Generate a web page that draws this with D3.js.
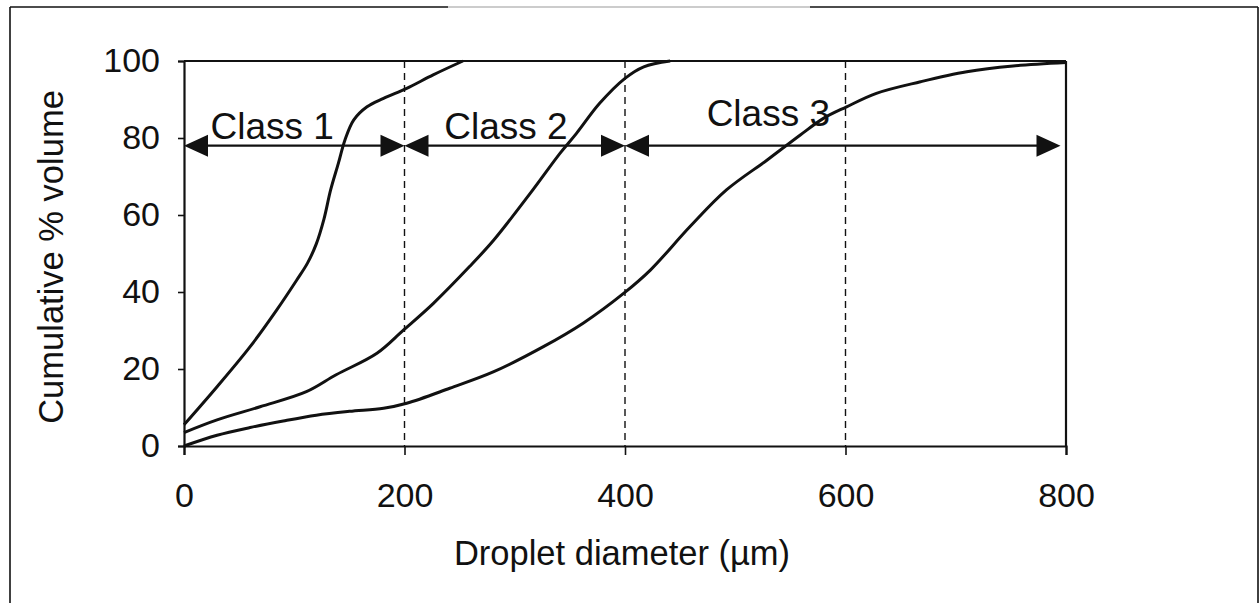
<!DOCTYPE html>
<html>
<head>
<meta charset="utf-8">
<script src="https://cdn.jsdelivr.net/npm/d3@7"></script>
<style>
  html, body { margin: 0; padding: 0; background: #fff; }
  svg { display: block; }
  text { font-family: "Liberation Sans", Arial, Helvetica, sans-serif; fill: #111; }
</style>
</head>
<body>
<svg id="chart" width="1260" height="603"></svg>
<script>
// Cumulative volume distributions of droplet diameter for three size classes
const class1Diameter = [0, 30, 60, 84, 102, 112, 120, 127, 133, 140, 146, 154, 166, 181, 202, 226, 253];
const class1Volume   = [5.5, 15.4, 25.8, 35.3, 43, 47.5, 52.5, 59, 66.5, 73.4, 79.5, 84.7, 88.1, 90.3, 92.9, 96.4, 100];

const class2Diameter = [0, 30, 69, 111, 138, 175, 199, 226, 259, 281, 314, 341, 356, 377, 400, 417, 441];
const class2Volume   = [3.5, 6.8, 10.2, 14.1, 18.5, 24.1, 30.1, 37, 46.6, 53.5, 65.6, 76, 81.2, 89, 95.5, 98.5, 100];

const class3Diameter = [0, 30, 60, 90, 120, 150, 181, 202, 241, 281, 326, 362, 399, 423, 459, 492, 529, 559, 580, 601, 628, 668, 710, 752, 800];
const class3Volume   = [0, 2.8, 4.8, 6.5, 8, 9, 9.8, 11.1, 15, 19.3, 25.8, 31.9, 39.7, 45.7, 57, 66.5, 74.3, 80.8, 85.1, 88.1, 91.6, 94.6, 97.2, 98.7, 99.6];

const xTicks = [0, 200, 400, 600, 800];
const yTicks = [0, 20, 40, 60, 80, 100];
const classBoundaries = [200, 400, 600];

const classNames = ["Class 1", "Class 2", "Class 3"];
const classFrom  = [0, 200, 400];
const classTo    = [200, 400, 795];
const classArrowLevel = 78;

const svg = d3.select("#chart");
const W = 1260, H = 603;

svg.append("rect").attr("width", W).attr("height", H).attr("fill", "#fff");

// outer frame (open at the bottom edge of the page)
const frame = svg.append("g").attr("fill", "none").attr("stroke-width", 1.6);
frame.append("line").attr("x1", 10).attr("y1", 7).attr("x2", 10).attr("y2", H).attr("stroke", "#111");
frame.append("line").attr("x1", 1258).attr("y1", 7).attr("x2", 1258).attr("y2", H).attr("stroke", "#111");
frame.append("line").attr("x1", 10).attr("y1", 7).attr("x2", 448).attr("y2", 7).attr("stroke", "#111");
frame.append("line").attr("x1", 448).attr("y1", 7).attr("x2", 810).attr("y2", 7).attr("stroke", "#bbb");
frame.append("line").attr("x1", 810).attr("y1", 7).attr("x2", 1258).attr("y2", 7).attr("stroke", "#111");

const x = d3.scaleLinear().domain([0, 800]).range([184, 1066]);
const y = d3.scaleLinear().domain([0, 100]).range([446, 61]);

// dashed class boundaries
svg.append("g").selectAll("line").data(classBoundaries).join("line")
  .attr("x1", d => x(d)).attr("x2", d => x(d))
  .attr("y1", y(100)).attr("y2", y(0))
  .attr("stroke", "#111").attr("stroke-width", 1.4)
  .attr("stroke-dasharray", "7,5");

// axes
const fontTick = 34;
const xAxis = svg.append("g").attr("transform", `translate(0,${y(0)})`)
  .call(d3.axisBottom(x).tickValues(xTicks).tickSize(9).tickPadding(28).tickFormat(d3.format("d")));
const yAxis = svg.append("g").attr("transform", `translate(${x(0)},0)`)
  .call(d3.axisLeft(y).tickValues(yTicks).tickSize(6).tickPadding(18).tickFormat(d3.format("d")));
[xAxis, yAxis].forEach(a => {
  a.select(".domain").attr("stroke", "#111").attr("stroke-width", 2.2);
  a.selectAll(".tick line").attr("stroke", "#111").attr("stroke-width", 1.6);
  a.selectAll(".tick text").attr("font-size", fontTick)
    .attr("font-family", "'Liberation Sans', Arial, Helvetica, sans-serif").attr("fill", "#111");
});

// top and right edges of the plot area
svg.append("line").attr("x1", x(0)).attr("x2", x(800)).attr("y1", y(100)).attr("y2", y(100))
  .attr("stroke", "#111").attr("stroke-width", 2.2);
svg.append("line").attr("x1", x(800)).attr("x2", x(800)).attr("y1", y(100)).attr("y2", y(0))
  .attr("stroke", "#111").attr("stroke-width", 2.2);

// distribution curves
const line = d3.line().x(d => x(d[0])).y(d => y(d[1])).curve(d3.curveCatmullRom.alpha(0.5));
const curves = [
  d3.zip(class1Diameter, class1Volume),
  d3.zip(class2Diameter, class2Volume),
  d3.zip(class3Diameter, class3Volume)
];
svg.append("g").selectAll("path").data(curves).join("path")
  .attr("d", line).attr("fill", "none")
  .attr("stroke", "#111").attr("stroke-width", 3).attr("stroke-linejoin", "round");

// class range arrows
const ay = y(classArrowLevel);
const headL = 24, headH = 11;
const arrows = svg.append("g");
classNames.forEach((name, i) => {
  const x0 = x(classFrom[i]), x1 = x(classTo[i]);
  arrows.append("line").attr("x1", x0 + 4).attr("x2", x1 - 4).attr("y1", ay).attr("y2", ay)
    .attr("stroke", "#111").attr("stroke-width", 2.2);
  arrows.append("path")
    .attr("d", `M${x0},${ay}L${x0 + headL},${ay - headH}L${x0 + headL},${ay + headH}Z`).attr("fill", "#111");
  arrows.append("path")
    .attr("d", `M${x1},${ay}L${x1 - headL},${ay - headH}L${x1 - headL},${ay + headH}Z`).attr("fill", "#111");
});

// class labels
const labelAnchor = [[80, 139], [292, 139], [530, 126]];
classNames.forEach((name, i) => {
  svg.append("text").attr("x", x(labelAnchor[i][0])).attr("y", labelAnchor[i][1])
    .attr("text-anchor", "middle").attr("font-size", 37).text(name);
});

// axis titles
svg.append("text").attr("x", 622).attr("y", 565).attr("text-anchor", "middle")
  .attr("font-size", 34.5).text("Droplet diameter (\u00b5m)");
svg.append("text").attr("transform", "translate(63,257) rotate(-90)").attr("text-anchor", "middle")
  .attr("font-size", 34.5).text("Cumulative % volume");
</script>
</body>
</html>
